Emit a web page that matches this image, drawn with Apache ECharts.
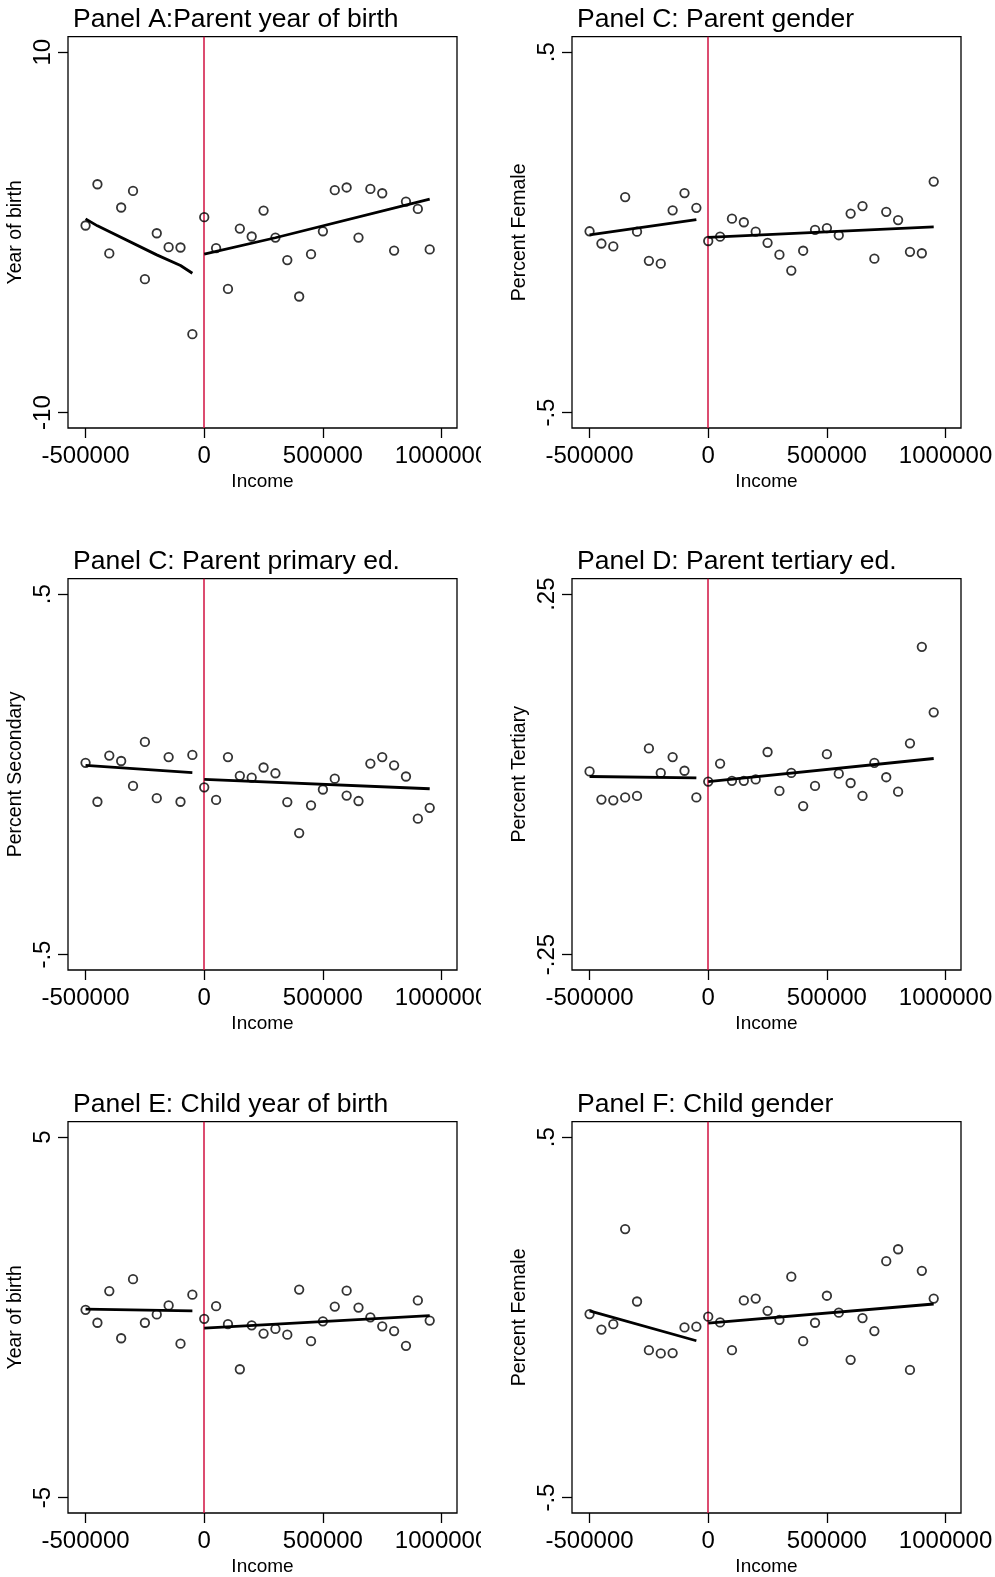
<!DOCTYPE html>
<html>
<head>
<meta charset="utf-8">
<script src="https://cdn.jsdelivr.net/npm/echarts@6/dist/echarts.min.js"></script>
<style>
  body { margin: 0; background: #fff; }
  .panel { position: absolute; height: 542px; }
</style>
</head>
<body>
<div id="pA" class="panel" style="left:0;top:0;width:481px"></div>
<div id="pB" class="panel" style="left:481px;top:0;width:514px"></div>
<div id="pC" class="panel" style="left:0;top:542px;width:481px"></div>
<div id="pD" class="panel" style="left:481px;top:542px;width:514px"></div>
<div id="pE" class="panel" style="left:0;top:1085px;width:481px"></div>
<div id="pF" class="panel" style="left:481px;top:1085px;width:514px"></div>
<script type="text/javascript">
    // income bins
    var xLeft = [-500000, -450000, -400000, -350000, -300000, -250000, -200000, -150000, -100000, -50000];
    var xRight = [0, 50000, 100000, 150000, 200000, 250000, 300000, 350000, 400000, 450000,
        500000, 550000, 600000, 650000, 700000, 750000, 800000, 850000, 900000, 950000];
    var xTicks = [-500000, 0, 500000, 1000000];
    var cutoff = 0;

    // Panel A: parent year of birth
    var aLeft = [0.38, 2.67, -1.17, 1.38, 2.30, -2.60, -0.05, -0.82, -0.84, -5.65];
    var aRight = [0.84, -0.88, -3.14, 0.21, -0.23, 1.21, -0.29, -1.54, -3.56, -1.21,
        0.06, 2.34, 2.49, -0.29, 2.41, 2.17, -1.01, 1.71, 1.30, -0.95];
    var aFitLeftX = [-500000, -450000, -200000, -100000, -50000];
    var aFitLeftY = [0.75, 0.36, -1.25, -1.84, -2.27];
    var aFitRightX = [0, 300000, 950000];
    var aFitRightY = [-1.21, -0.30, 1.84];

    // Panel C (top right): parent gender
    var bLeft = [0.003, -0.031, -0.039, 0.098, 0.002, -0.079, -0.087, 0.061, 0.109, 0.068];
    var bRight = [-0.024, -0.012, 0.038, 0.028, 0.002, -0.029, -0.062, -0.106, -0.051, 0.007,
        0.012, -0.008, 0.052, 0.073, -0.073, 0.057, 0.034, -0.054, -0.058, 0.141];
    var bFitLeftY = [-0.007, 0.035];
    var bFitRightY = [-0.014, 0.015];

    // Panel C: parent primary ed.
    var cLeft = [0.032, -0.076, 0.052, 0.037, -0.032, 0.090, -0.066, 0.048, -0.076, 0.054];
    var cRight = [-0.036, -0.071, 0.048, -0.004, -0.009, 0.019, 0.003, -0.077, -0.163, -0.086,
        -0.042, -0.012, -0.059, -0.074, 0.030, 0.048, 0.025, -0.006, -0.123, -0.093];
    var cFitLeftY = [0.025, 0.005];
    var cFitRightY = [-0.014, -0.040];

    // Panel D: parent tertiary ed.
    var dLeft = [0.004, -0.035, -0.036, -0.032, -0.030, 0.036, 0.002, 0.024, 0.005, -0.032];
    var dRight = [-0.010, 0.015, -0.009, -0.009, -0.007, 0.031, -0.023, 0.002, -0.044, -0.016,
        0.028, 0.001, -0.012, -0.030, 0.016, -0.004, -0.024, 0.043, 0.177, 0.086];
    var dFitLeftY = [-0.003, -0.005];
    var dFitRightY = [-0.010, 0.022];

    // Panel E: child year of birth
    var eLeft = [0.21, -0.15, 0.73, -0.58, 1.06, -0.15, 0.08, 0.33, -0.73, 0.63];
    var eRight = [-0.04, 0.31, -0.19, -1.44, -0.22, -0.45, -0.32, -0.48, 0.77, -0.66,
        -0.11, 0.30, 0.74, 0.27, 0.00, -0.25, -0.38, -0.79, 0.47, -0.09];
    var eFitLeftY = [0.23, 0.18];
    var eFitRightY = [-0.30, 0.05];

    // Panel F: child gender
    var fLeft = [0.009, -0.034, -0.019, 0.245, 0.044, -0.091, -0.100, -0.099, -0.028, -0.026];
    var fRight = [0.002, -0.014, -0.091, 0.047, 0.052, 0.018, -0.007, 0.113, -0.066, -0.015,
        0.060, 0.013, -0.118, -0.002, -0.038, 0.156, 0.189, -0.146, 0.129, 0.052];
    var fFitLeftY = [0.018, -0.065];
    var fFitRightY = [-0.016, 0.037];

    var fitLeftX = [-500000, -50000];
    var fitRightX = [0, 950000];

    var FONT = '"Liberation Sans", Arial, sans-serif';

    function zip(xs, ys) {
        return xs.map(function (x, i) { return [x, ys[i]]; });
    }

    function makePanel(id, p) {
        var chart = echarts.init(document.getElementById(id));
        var gridLeft = p.right ? 91 : 68;
        var pad = 0.0429 * (p.yTicks[1] - p.yTicks[0]);
        var scatterStyle = {
            type: 'scatter',
            symbol: 'circle',
            symbolSize: 8.5,
            itemStyle: { color: 'rgba(0,0,0,0)', borderColor: '#000', borderWidth: 1.8 },
            z: 4
        };
        var fitStyle = {
            type: 'line',
            symbol: 'none',
            smooth: false,
            lineStyle: { color: '#000', width: 2.8 },
            z: 3
        };
        var option = {
            animation: false,
            title: {
                text: p.title,
                left: gridLeft + 5,
                top: 6,
                padding: 0,
                textStyle: { fontFamily: FONT, fontSize: 26.5, fontWeight: 'normal', color: '#000' }
            },
            grid: {
                left: gridLeft,
                top: 36.7,
                width: 389,
                height: 391.3,
                outerBoundsMode: 'none',
                containLabel: false,
                show: true,
                borderColor: '#000',
                borderWidth: 1.3,
                backgroundColor: 'rgba(0,0,0,0)'
            },
            xAxis: {
                type: 'value',
                min: -574000,
                max: 1065000,
                axisLine: { show: false, onZero: false },
                splitLine: { show: false },
                axisTick: { show: true, customValues: xTicks, length: 10, lineStyle: { color: '#000', width: 1.3 } },
                axisLabel: {
                    customValues: xTicks,
                    margin: 16,
                    fontFamily: FONT,
                    fontSize: 24,
                    color: '#000',
                    formatter: function (v) { return String(v); }
                },
                name: 'Income',
                nameLocation: 'middle',
                nameGap: 44,
                nameMoveOverlap: false,
                nameTextStyle: { fontFamily: FONT, fontSize: 19, color: '#000' }
            },
            yAxis: {
                type: 'value',
                min: p.yTicks[0] - pad,
                max: p.yTicks[1] + pad,
                axisLine: { show: false, onZero: false },
                splitLine: { show: false },
                axisTick: { show: true, customValues: p.yTicks, length: 10, lineStyle: { color: '#000', width: 1.3 } },
                axisLabel: {
                    customValues: p.yTicks,
                    rotate: 90,
                    margin: 13,
                    fontFamily: FONT,
                    fontSize: 24,
                    color: '#000',
                    formatter: function (v) { return String(v).replace('0.', '.'); }
                },
                name: p.yName,
                nameLocation: 'middle',
                nameGap: 42,
                nameMoveOverlap: false,
                nameTextStyle: { fontFamily: FONT, fontSize: 19.5, color: '#000' }
            },
            series: [
                Object.assign({}, fitStyle, { data: zip(p.fitLX, p.fitLY) }),
                Object.assign({}, fitStyle, { data: zip(p.fitRX, p.fitRY) }),
                Object.assign({}, scatterStyle, {
                    data: zip(xLeft, p.left).concat(zip(xRight, p.right_)),
                    markLine: {
                        silent: true,
                        symbol: 'none',
                        label: { show: false },
                        lineStyle: { color: '#d01040', width: 1.5, type: 'solid' },
                        data: [{ xAxis: cutoff }],
                        z: 2
                    }
                })
            ]
        };
        chart.setOption(option);
    }

    makePanel('pA', { title: 'Panel A:Parent year of birth', yName: 'Year of birth', yTicks: [-10, 10],
        left: aLeft, right_: aRight, fitLX: aFitLeftX, fitLY: aFitLeftY, fitRX: aFitRightX, fitRY: aFitRightY });
    makePanel('pB', { right: true, title: 'Panel C: Parent gender', yName: 'Percent Female', yTicks: [-0.5, 0.5],
        left: bLeft, right_: bRight, fitLX: fitLeftX, fitLY: bFitLeftY, fitRX: fitRightX, fitRY: bFitRightY });
    makePanel('pC', { title: 'Panel C: Parent primary ed.', yName: 'Percent Secondary', yTicks: [-0.5, 0.5],
        left: cLeft, right_: cRight, fitLX: fitLeftX, fitLY: cFitLeftY, fitRX: fitRightX, fitRY: cFitRightY });
    makePanel('pD', { right: true, title: 'Panel D: Parent tertiary ed.', yName: 'Percent Tertiary', yTicks: [-0.25, 0.25],
        left: dLeft, right_: dRight, fitLX: fitLeftX, fitLY: dFitLeftY, fitRX: fitRightX, fitRY: dFitRightY });
    makePanel('pE', { title: 'Panel E: Child year of birth', yName: 'Year of birth', yTicks: [-5, 5],
        left: eLeft, right_: eRight, fitLX: fitLeftX, fitLY: eFitLeftY, fitRX: fitRightX, fitRY: eFitRightY });
    makePanel('pF', { right: true, title: 'Panel F: Child gender', yName: 'Percent Female', yTicks: [-0.5, 0.5],
        left: fLeft, right_: fRight, fitLX: fitLeftX, fitLY: fFitLeftY, fitRX: fitRightX, fitRY: fFitRightY });
</script>
</body>
</html>
